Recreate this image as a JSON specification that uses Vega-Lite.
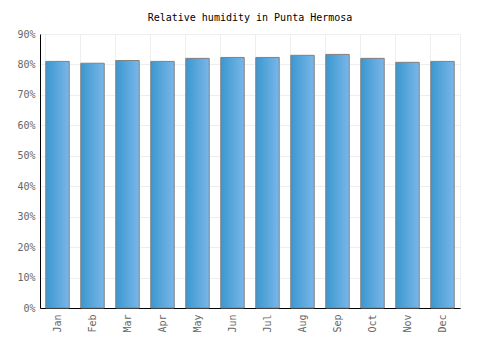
{
  "$schema": "https://vega.github.io/schema/vega-lite/v6.json",
  "width": 420,
  "height": 274,
  "autosize": "none",
  "padding": {"left": 40, "top": 34, "right": 40, "bottom": 42},
  "background": "white",
  "title": {"text": "Relative humidity in Punta Hermosa", "font": "DejaVu Sans Mono", "fontSize": 10, "fontWeight": "normal", "color": "#000000", "offset": 6},
  "config": {
    "view": {"stroke": "#eeeeee", "strokeWidth": 1},
    "axis": {"labelFont": "DejaVu Sans Mono", "labelFontSize": 10, "labelColor": "#666666", "gridColor": "#eeeeee", "gridWidth": 1, "domainColor": "#000000", "domainWidth": 1, "ticks": false}
  },
  "data": {"values": [
    {"month": "Jan", "humidity": 81.0},
    {"month": "Feb", "humidity": 80.4},
    {"month": "Mar", "humidity": 81.3},
    {"month": "Apr", "humidity": 81.0},
    {"month": "May", "humidity": 82.0},
    {"month": "Jun", "humidity": 82.3},
    {"month": "Jul", "humidity": 82.3},
    {"month": "Aug", "humidity": 83.0},
    {"month": "Sep", "humidity": 83.3},
    {"month": "Oct", "humidity": 82.0},
    {"month": "Nov", "humidity": 80.7},
    {"month": "Dec", "humidity": 81.0}
  ]},
  "mark": {
    "type": "bar",
    "stroke": "#808080",
    "strokeWidth": 1,
    "fill": {"gradient": "linear", "x1": 0, "y1": 0, "x2": 1, "y2": 0, "stops": [{"offset": 0, "color": "#3a98cf"}, {"offset": 1, "color": "#7ab6e9"}]}
  },
  "encoding": {
    "x": {"field": "month", "type": "nominal", "sort": null, "title": null,
      "scale": {"paddingInner": 0.33, "paddingOuter": 0.165},
      "axis": {"labelAngle": -90, "labelAlign": "right", "labelBaseline": "middle", "labelPadding": 6, "grid": true, "bandPosition": 0}},
    "y": {"field": "humidity", "type": "quantitative", "title": null,
      "scale": {"domain": [0, 90]},
      "axis": {"values": [0, 10, 20, 30, 40, 50, 60, 70, 80, 90], "labelExpr": "datum.value + '%'", "labelPadding": 5, "grid": true}}
  }
}
